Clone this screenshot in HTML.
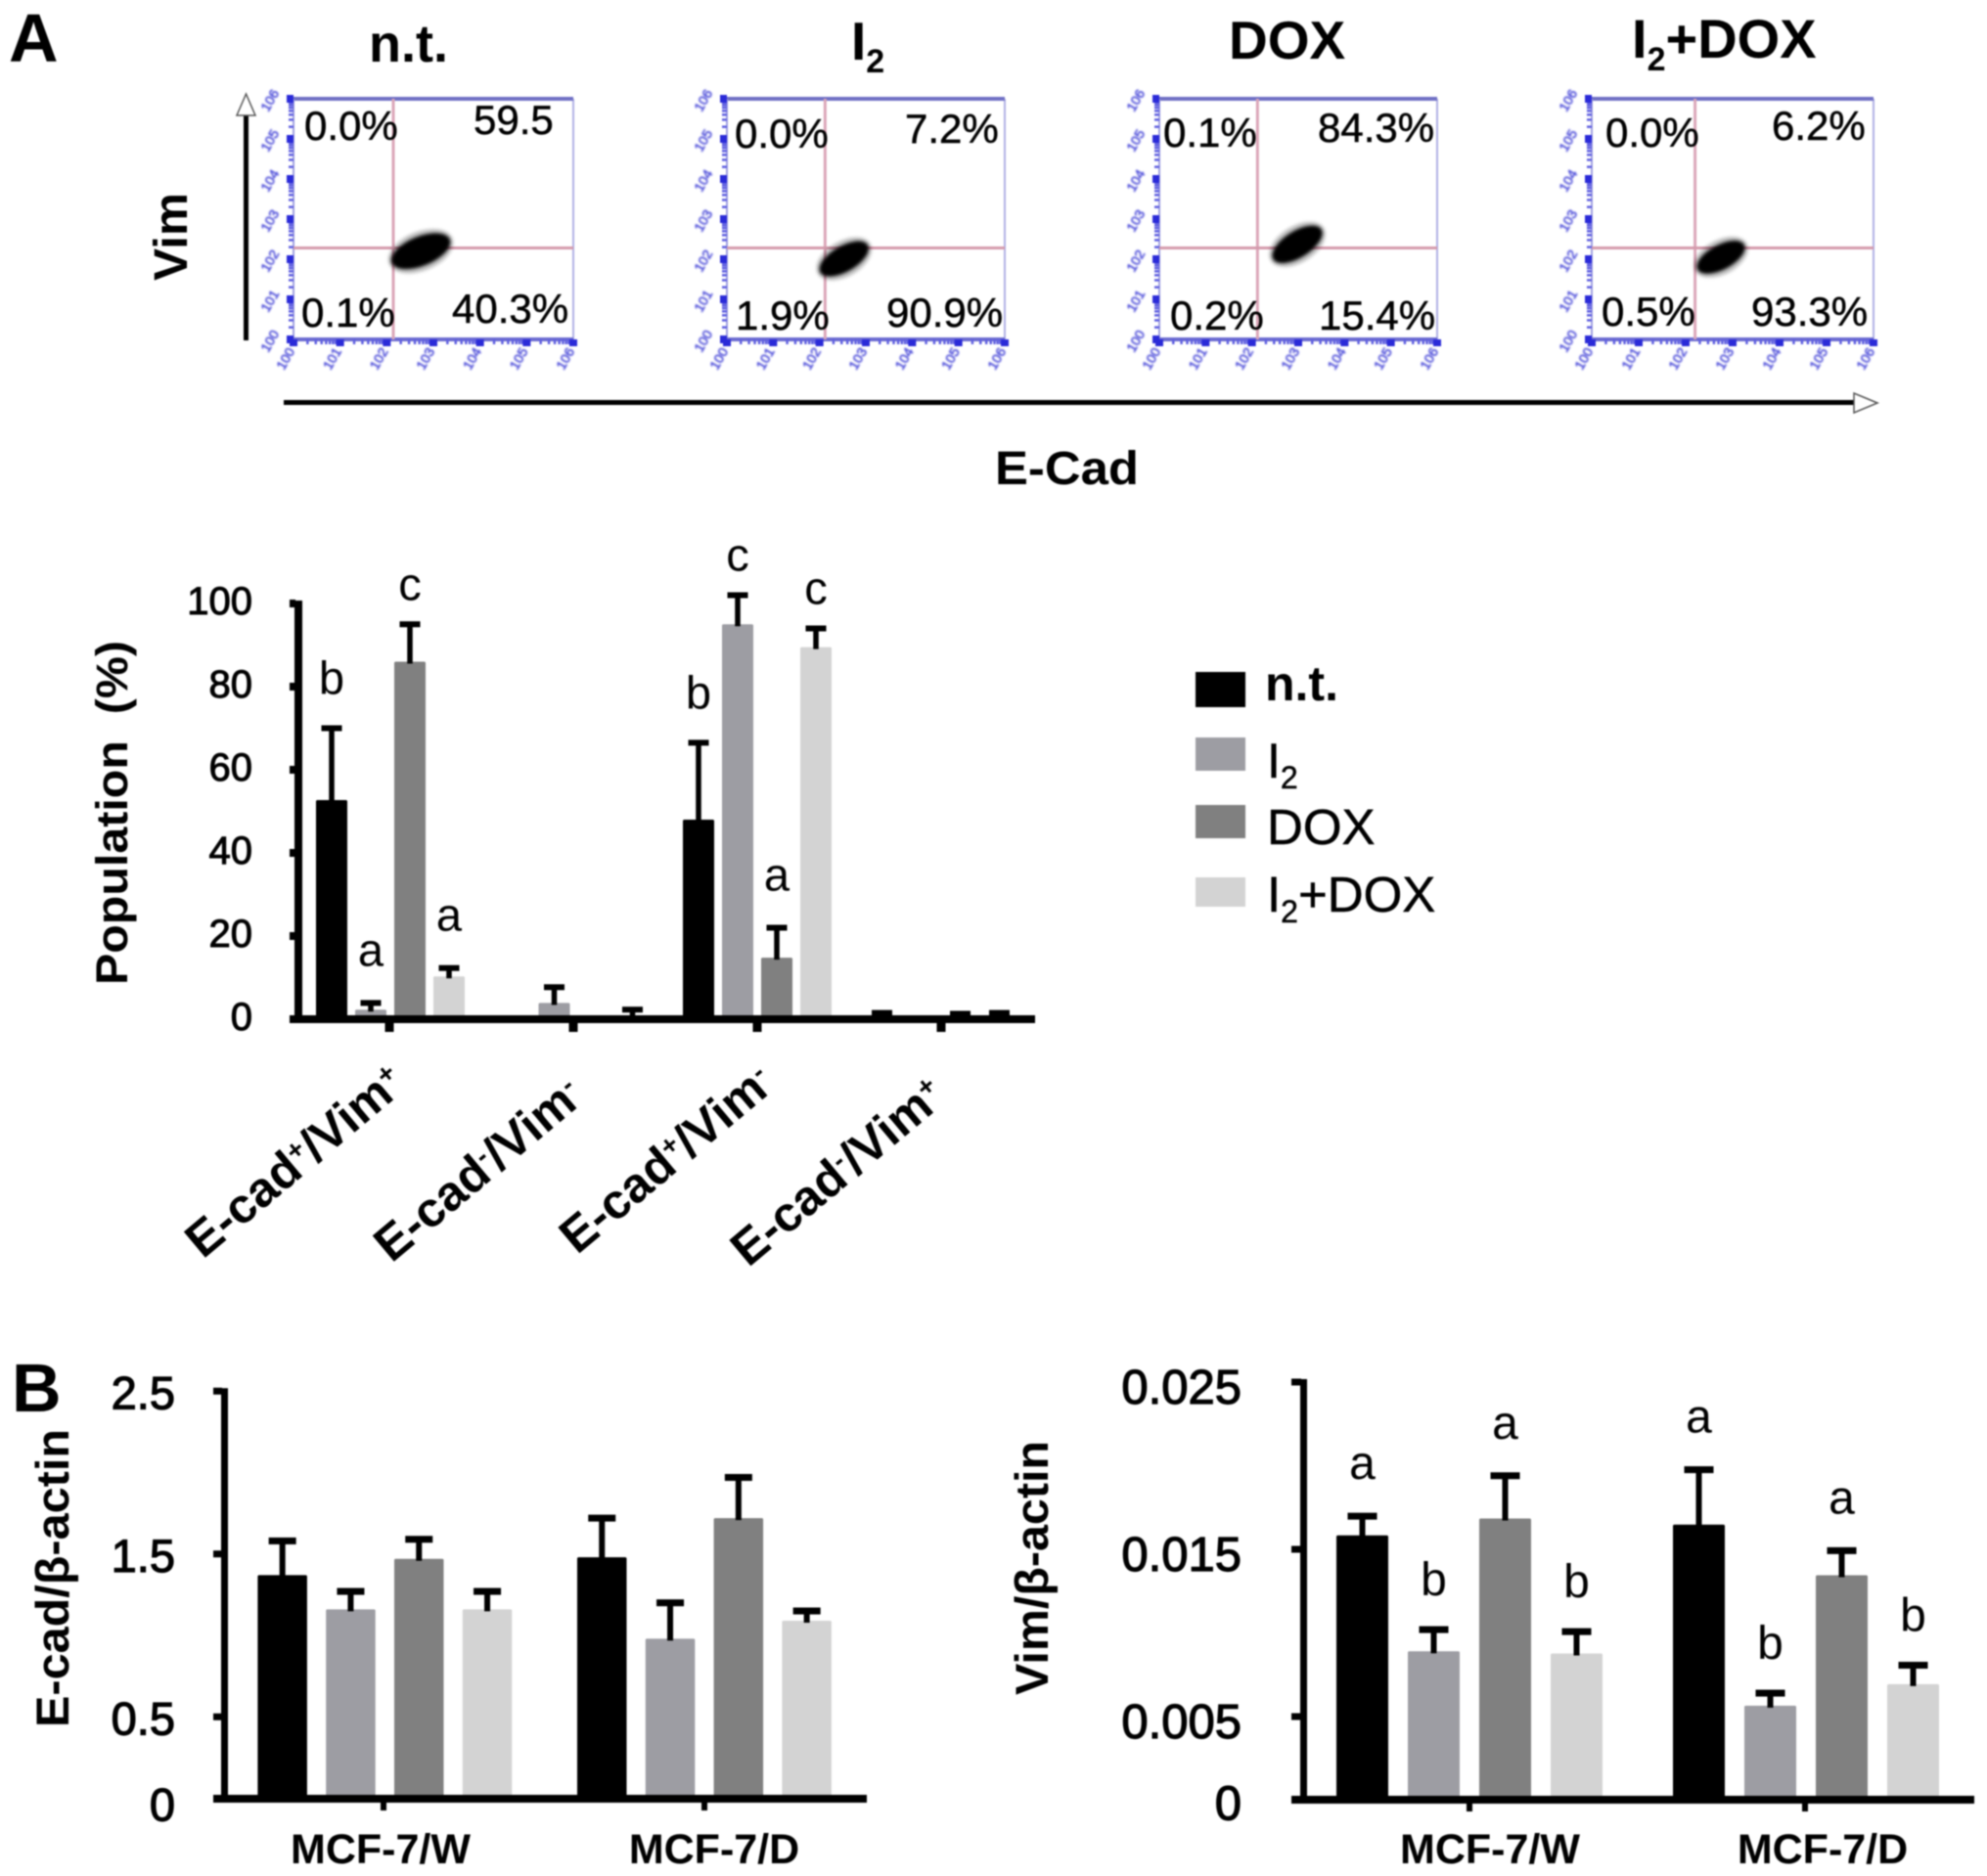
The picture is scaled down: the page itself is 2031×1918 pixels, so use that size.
<!DOCTYPE html>
<html lang="en">
<head>
<meta charset="utf-8">
<title>E-cad and Vim populations</title>
<style>
html,body{margin:0;padding:0;background:#fff;width:2031px;height:1918px;overflow:hidden}
svg{display:block;filter:blur(.7px)}
text{font-family:"Liberation Sans",sans-serif;fill:#000}
.b{font-weight:bold}
.pct{font-size:42px;stroke:#000;stroke-width:.5px}
.leg{stroke:#000;stroke-width:.5px}
.flowtick{font-size:14px;fill:#4a4ad8;stroke:#4a4ad8;stroke-width:.5px;filter:blur(.9px)}
</style>
</head>
<body>
<svg id="fig" xmlns="http://www.w3.org/2000/svg" width="2031" height="1918" viewBox="0 0 2031 1918">
  <rect width="2031" height="1918" fill="#fff"/>

  <text class="b" x="9" y="63" font-size="70">A</text>
  <text class="b" x="12" y="1443" font-size="70">B</text>

  <text class="b" x="377" y="63" font-size="54">n.t.</text>
  <text class="b" x="870" y="61" font-size="55">I<tspan dy="13" font-size="34">2</tspan></text>
  <text class="b" x="1256" y="60" font-size="55">DOX</text>
  <text class="b" x="1668" y="59" font-size="56">I<tspan dy="13" font-size="34">2</tspan><tspan dy="-13">+DOX</tspan></text>

  <g id="flow"></g>

  <g>
    <text class="pct" x="311" y="143">0.0%</text>
    <text class="pct" x="484" y="137">59.5</text>
    <text class="pct" x="308" y="334">0.1%</text>
    <text class="pct" x="462" y="330">40.3%</text>
    <text class="pct" x="751" y="151">0.0%</text>
    <text class="pct" x="925" y="146">7.2%</text>
    <text class="pct" x="752" y="337">1.9%</text>
    <text class="pct" x="906" y="334">90.9%</text>
    <text class="pct" x="1189" y="150">0.1%</text>
    <text class="pct" x="1347" y="145">84.3%</text>
    <text class="pct" x="1196" y="337">0.2%</text>
    <text class="pct" x="1348" y="337">15.4%</text>
    <text class="pct" x="1641" y="150">0.0%</text>
    <text class="pct" x="1811" y="143">6.2%</text>
    <text class="pct" x="1637" y="333">0.5%</text>
    <text class="pct" x="1790" y="333">93.3%</text>
  </g>

  <g>
    <rect x="249" y="116" width="5" height="232" fill="#000"/>
    <polygon points="251.5,96 242,118 261,118" fill="#fff" stroke="#555" stroke-width="1.5"/>
  </g>
  <text class="b" transform="translate(191,287) rotate(-90)" font-size="48" textLength="90" lengthAdjust="spacingAndGlyphs">Vim</text>
  <g>
    <rect x="290" y="409" width="1606" height="5" fill="#000"/>
    <polygon points="1919,412 1895,402 1895,422" fill="#fff" stroke="#555" stroke-width="1.5"/>
  </g>
  <text class="b" x="1017" y="495" font-size="48" textLength="147" lengthAdjust="spacingAndGlyphs">E-Cad</text>

  <g id="chartA"></g>
  <text class="b" transform="translate(130,1007) rotate(-90)" font-size="45" textLength="352" lengthAdjust="spacingAndGlyphs">Population&#160;&#160;(%)</text>

  <g>
    <g>
      <rect x="1222" y="687" width="51" height="36" fill="#000"/>
      <text class="b" x="1293" y="716" font-size="50">n.t.</text>
    </g>
    <g>
      <rect x="1222" y="754" width="51" height="34" fill="#9d9da3"/>
      <text class="leg" x="1295" y="795" font-size="50">I<tspan dy="11" font-size="32">2</tspan></text>
    </g>
    <g>
      <rect x="1222" y="823" width="51" height="34" fill="#808080"/>
      <text class="leg" x="1295" y="863" font-size="51">DOX</text>
    </g>
    <g>
      <rect x="1222" y="897" width="51" height="30" fill="#d3d3d3"/>
      <text class="leg" x="1295" y="932" font-size="51">I<tspan dy="11" font-size="32">2</tspan><tspan dy="-11">+DOX</tspan></text>
    </g>
  </g>

  <g id="chartB"></g>
  <text class="b" transform="translate(70,1766) rotate(-90)" font-size="47" textLength="305" lengthAdjust="spacingAndGlyphs">E-cad/β-actin</text>

  <g id="chartC"></g>
  <text class="b" transform="translate(1071,1733) rotate(-90)" font-size="47" textLength="260" lengthAdjust="spacingAndGlyphs">Vim/β-actin</text>
</svg>

<script>
/* Shared series */
const seriesColors = ['#000000', '#9d9da3', '#808080', '#d3d3d3'];

/* Panel A bar chart data */
const popTickValues = [0, 20, 40, 60, 80, 100];
const popTickLabels = ['0', '20', '40', '60', '80', '100'];
const popNt = [52.7, 0.3, 48, 0.8];
const popI2 = [2.3, 3.9, 95, 0];
const popDox = [86, 0, 14.8, 0.5];
const popCombo = [10.3, 0.7, 89.5, 0.6];
const popNtErr = [17.3, 0, 18.5, 0.7];
const popI2Err = [1.6, 3.8, 7, 0];
const popDoxErr = [9, 0, 7.2, 0.8];
const popComboErr = [2, 1.6, 4.5, 0.9];
const popNtLetters = ['b', '', 'b', ''];
const popI2Letters = ['a', '', 'c', ''];
const popDoxLetters = ['c', '', 'a', ''];
const popComboLetters = ['a', '', 'c', ''];
const popCatPlus = [['+', '+'], ['-', '-'], ['+', '-'], ['-', '+']];

/* Panel B left data */
const ecadCategories = ['MCF-7/W', 'MCF-7/D'];
const ecadTickValues = [2.5, 1.5, 0.5, 0];
const ecadTickLabels = ['2.5', '1.5', '0.5', '0'];
const ecadNt = [1.37, 1.48];
const ecadI2 = [1.16, 0.98];
const ecadDox = [1.47, 1.72];
const ecadCombo = [1.16, 1.09];
const ecadNtErr = [0.21, 0.24];
const ecadI2Err = [0.11, 0.22];
const ecadDoxErr = [0.12, 0.25];
const ecadComboErr = [0.11, 0.06];

/* Panel B right data */
const vimCategories = ['MCF-7/W', 'MCF-7/D'];
const vimTickValues = [0.025, 0.015, 0.005, 0];
const vimTickLabels = ['0.025', '0.015', '0.005', '0'];
const vimNt = [0.01583, 0.01648];
const vimI2 = [0.0089, 0.00565];
const vimDox = [0.01684, 0.01345];
const vimCombo = [0.00877, 0.00694];
const vimNtErr = [0.00115, 0.00328];
const vimI2Err = [0.0013, 0.00075];
const vimDoxErr = [0.00256, 0.00147];
const vimComboErr = [0.00131, 0.00113];
const vimNtLetters = ['a', 'a'];
const vimI2Letters = ['b', 'b'];
const vimDoxLetters = ['a', 'a'];
const vimComboLetters = ['b', 'b'];

/* Flow plots, in log-decade axis units (0-6) */
const flowGateX = [2.14, 2.12, 2.12, 2.2];
const flowGateY = [2.28, 2.28, 2.28, 2.28];
const flowBlobX = [2.73, 2.53, 2.98, 2.75];
const flowBlobY = [2.2, 2.01, 2.37, 2.05];
const flowBlobSpread = [0.67, 0.59, 0.61, 0.56];
const flowBlobTilt = [-22, -30, -32, -28];
const flowDecades = [0, 1, 2, 3, 4, 5, 6];

const NS = 'http://www.w3.org/2000/svg';
function mk(tag, attrs, parent) {
  const e = document.createElementNS(NS, tag);
  for (const k in attrs) e.setAttribute(k, attrs[k]);
  parent.appendChild(e);
  return e;
}

/* ---------- flow plots ---------- */
const flowBoxes = [
  {l: 300, r: 586, t: 101, b: 347},
  {l: 743, r: 1027, t: 101, b: 347},
  {l: 1185, r: 1469, t: 101, b: 347},
  {l: 1627, r: 1915, t: 101, b: 347}
];
const flowRoot = document.getElementById('flow');
const blurDefs = mk('defs', {}, flowRoot);
const blurF = mk('filter', {id: 'soft', x: '-30%', y: '-30%', width: '160%', height: '160%'}, blurDefs);
mk('feGaussianBlur', {stdDeviation: '1.6'}, blurF);

flowBoxes.forEach(function (box, p) {
  const sx = function (d) { return box.l + (box.r - box.l) * d / 6; };
  const sy = function (d) { return box.b - (box.b - box.t) * d / 6; };
  const g = mk('g', {}, flowRoot);
  
  

  const frameR = mk('rect', {x: box.r - 1, y: box.t, width: 2, height: box.b - box.t, fill: '#b0b0e4'}, g);
  
  
  const frameT = mk('rect', {x: box.l - 3, y: box.t - 2, width: box.r - box.l + 3, height: 4, fill: '#6f6fc4'}, g);
  
  
  const frameL = mk('rect', {x: box.l - 1, y: box.t, width: 2, height: box.b - box.t, fill: '#a0a0e0'}, g);
  
  
  const frameB = mk('rect', {x: box.l - 3, y: box.b - 2, width: box.r - box.l + 3, height: 4, fill: '#6a6ad0'}, g);
  
  

  const gateV = mk('rect', {x: sx(flowGateX[p]) - 1.5, y: box.t, width: 3, height: box.b - box.t, fill: '#dba6b8'}, g);
  
  
  const gateH = mk('rect', {x: box.l, y: sy(flowGateY[p]) - 1.5, width: box.r - box.l, height: 3, fill: '#d49aac'}, g);
  
  

  flowDecades.forEach(function (d) {
    const major = mk('rect', {x: box.l - 7, y: sy(d) - 4, width: 7, height: 8, fill: '#2a2ad8'}, g);
    
    
    const majorX = mk('rect', {x: sx(d) - 4, y: box.b, width: 8, height: 7, fill: '#2a2ad8'}, g);
    
    
    if (d < 6) {
      for (let k = 2; k < 10; k += 1) {
        const minor = mk('rect', {x: box.l - 5, y: sy(d + Math.log10(k)) - 1.25, width: 5, height: 2.5, fill: '#6060e0'}, g);
        
        
        const minorX = mk('rect', {x: sx(d + Math.log10(k)) - 1.25, y: box.b, width: 2.5, height: 5, fill: '#6060e0'}, g);
        
        
      }
    }
    const ly = mk('text', {transform: 'translate(' + (box.l - 20) + ',' + (sy(d) + 4) + ') rotate(-60)', 'text-anchor': 'middle', class: 'flowtick'}, g);
    ly.textContent = '10' + d;
    
    
    const lx = mk('text', {transform: 'translate(' + (sx(d) - 4) + ',' + (box.b + 22) + ') rotate(-60)', 'text-anchor': 'middle', class: 'flowtick'}, g);
    lx.textContent = '10' + d;
    
    
  });

  const cx = sx(flowBlobX[p]);
  const cy = sy(flowBlobY[p]);
  const rx = flowBlobSpread[p] * (box.r - box.l) / 6;
  const halo = mk('ellipse', {cx: cx, cy: cy, rx: rx + 3, ry: rx * 0.47 + 5, fill: '#000', opacity: 0.25, filter: 'url(#soft)', transform: 'rotate(' + flowBlobTilt[p] + ' ' + cx + ' ' + cy + ')'}, g);
  
  
  const blob = mk('ellipse', {cx: cx, cy: cy, rx: rx, ry: rx * 0.47, fill: '#050000', filter: 'url(#soft)', transform: 'rotate(' + flowBlobTilt[p] + ' ' + cx + ' ' + cy + ')'}, g);
  
  
});

/* ---------- bar charts ---------- */
function drawChart(root, cfg) {
  cfg.means.forEach(function (series, s) {
    series.forEach(function (v, c) {
      const x = cfg.barX(c, s);
      const top = cfg.y(v);
      if (v > 0) {
        const bar = mk('rect', {x: x, y: top, width: cfg.barW, height: cfg.y(0) - top, fill: seriesColors[s], rx: 1.5}, root);
        
        
      }
      const err = cfg.errs[s][c];
      const capY = cfg.y(v + err);
      const mid = x + cfg.barW / 2;
      if (err > 0) {
        const stem = mk('rect', {x: mid - cfg.stem / 2, y: capY, width: cfg.stem, height: top - capY + 2, fill: '#000'}, root);
        
        
        const cap = mk('rect', {x: mid - cfg.capW / 2, y: capY - cfg.capH / 2, width: cfg.capW, height: cfg.capH, fill: '#000'}, root);
        
        
      }
      const letter = cfg.letters ? cfg.letters[s][c] : '';
      if (letter) {
        const lift = {a: 38, b: 35, c: 25}[letter];
        const t = mk('text', {x: mid, y: capY - lift, 'text-anchor': 'middle', 'font-size': cfg.letterSize}, root);
        t.textContent = letter;
        
        
      }
    });
  });

  const yAxis = mk('rect', {x: cfg.axisX, y: cfg.y(cfg.yMax) - 3, width: cfg.axisW, height: cfg.axisBottom - cfg.y(cfg.yMax) + 3, fill: '#000'}, root);
  
  
  const xAxis = mk('rect', {x: cfg.xAxisL, y: cfg.axisBottom - cfg.xAxisH, width: cfg.xAxisR - cfg.xAxisL, height: cfg.xAxisH, fill: '#000'}, root);
  
  

  cfg.tickValues.forEach(function (v, i) {
    if (v > 0 || cfg.zeroTick) {
      const tick = mk('rect', {x: cfg.xAxisL, y: cfg.y(v) - cfg.tickH / 2, width: cfg.axisX - cfg.xAxisL + 1, height: cfg.tickH, fill: '#000'}, root);
      
      
    }
    const lab = mk('text', {x: cfg.labelRight, y: cfg.y(v) + cfg.labelDy + (v === 0 ? cfg.zeroDy : 0), 'text-anchor': 'end', 'font-size': cfg.tickSize, stroke: '#000', 'stroke-width': cfg.tickStroke}, root);
    lab.textContent = cfg.tickLabels[i];
    
    
  });

  cfg.means[0].forEach(function (_, c) {
    const tx = cfg.tickX(c);
    const tick = mk('rect', {x: tx - cfg.xTickW / 2, y: cfg.axisBottom, width: cfg.xTickW, height: cfg.xTickLen, fill: '#000'}, root);
    
    
    if (cfg.categories) {
      const lab = mk('text', {x: cfg.catX(c), y: 1905, 'font-size': 43, 'font-weight': 'bold', 'text-anchor': 'middle'}, root);
      lab.textContent = cfg.categories[c];
      
      
    }
  });
}

const popBase = 1042, popScale = 4.25;
const chartARoot = document.getElementById('chartA');
drawChart(chartARoot, {
  means: [popNt, popI2, popDox, popCombo],
  errs: [popNtErr, popI2Err, popDoxErr, popComboErr],
  letters: [popNtLetters, popI2Letters, popDoxLetters, popComboLetters],
  y: function (v) { return popBase - v * popScale; },
  barX: function (c, s) { return 323 + 187.5 * c + 40 * s; },
  barW: 32, stem: 5.5, capW: 21, capH: 6, letterSize: 47,
  tickValues: popTickValues, tickLabels: popTickLabels, yMax: 100,
  axisX: 301, axisW: 8, axisBottom: 1046, xAxisL: 296, xAxisR: 1058, xAxisH: 8,
  tickH: 8, zeroTick: true, labelRight: 258, labelDy: 11, zeroDy: 0, tickSize: 40, tickStroke: 1,
  tickX: function (c) { return 398 + 188 * c; }, xTickW: 9, xTickLen: 9
});

popCatPlus.forEach(function (marks, c) {
  const ex = 417 + 185 * c + (c === 2 ? 7 : 0) - (c % 2) * 3;
  const ey = 1112 + (c % 2) * 13;
  const t = mk('text', {transform: 'translate(' + ex + ',' + ey + ') rotate(-40)', 'font-size': 50, 'font-weight': 'bold', 'text-anchor': 'end'}, chartARoot);
  
  
  const a = mk('tspan', {}, t);
  a.textContent = 'E-cad';
  const b = mk('tspan', {dy: -16, 'font-size': 28}, t);
  b.textContent = marks[0];
  const d = mk('tspan', {dy: 16}, t);
  d.textContent = '/Vim';
  const e = mk('tspan', {dy: -16, 'font-size': 28}, t);
  e.textContent = marks[1];
});

drawChart(document.getElementById('chartB'), {
  means: [ecadNt, ecadI2, ecadDox, ecadCombo],
  errs: [ecadNtErr, ecadI2Err, ecadDoxErr, ecadComboErr],
  categories: ecadCategories,
  y: function (v) { return 1838.5 - v * 166.5; },
  barX: function (c, s) { return 263.4 + 326.6 * c + 69.8 * s; },
  barW: 50.5, stem: 6, capW: 28, capH: 7,
  tickValues: ecadTickValues, tickLabels: ecadTickLabels, yMax: 2.5,
  axisX: 226, axisW: 7, axisBottom: 1843, xAxisL: 218, xAxisR: 886, xAxisH: 8,
  tickH: 7, zeroTick: false, labelRight: 179, labelDy: 18, zeroDy: 5, tickSize: 47, tickStroke: 1.2,
  tickX: function (c) { return 392 + 328 * c; }, xTickW: 6, xTickLen: 8,
  catX: function (c) { return 389 + 341 * c; }
});

drawChart(document.getElementById('chartC'), {
  means: [vimNt, vimI2, vimDox, vimCombo],
  errs: [vimNtErr, vimI2Err, vimDoxErr, vimComboErr],
  letters: [vimNtLetters, vimI2Letters, vimDoxLetters, vimComboLetters],
  categories: vimCategories,
  y: function (v) { return 1840.5 - v * 17100; },
  barX: function (c, s) { return 1366 + 344 * c + 73 * s; },
  barW: 53, stem: 6, capW: 30, capH: 7, letterSize: 48,
  tickValues: vimTickValues, tickLabels: vimTickLabels, yMax: 0.025,
  axisX: 1329, axisW: 7, axisBottom: 1844, xAxisL: 1320, xAxisR: 2018, xAxisH: 8,
  tickH: 7, zeroTick: false, labelRight: 1269, labelDy: 22, zeroDy: -2, tickSize: 49, tickStroke: 1.2,
  tickX: function (c) { return 1502 + 343 * c; }, xTickW: 6, xTickLen: 8,
  catX: function (c) { return 1523 + 340 * c; }
});
</script>
</body>
</html>
